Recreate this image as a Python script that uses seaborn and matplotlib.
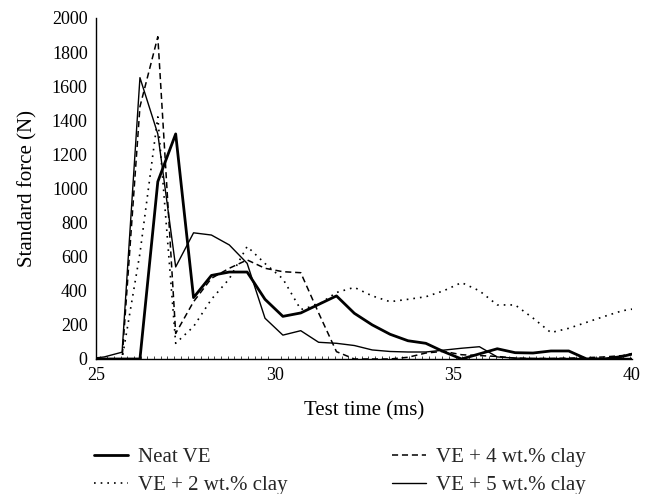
import numpy as np
import pandas as pd
import matplotlib
matplotlib.use("Agg")
import matplotlib.pyplot as plt
from matplotlib.ticker import MultipleLocator
import seaborn as sns

sns.set_theme(style="white")
plt.rcParams['font.family'] = ['Liberation Serif', 'DejaVu Serif']

# Test time (ms) of each sample
time_ms = [24.73, 25.23, 25.73, 26.23, 26.73, 27.23, 27.73, 28.23, 28.73, 29.23,
           29.73, 30.23, 30.73, 31.23, 31.73, 32.23, 32.73, 33.23, 33.73, 34.23,
           34.73, 35.23, 35.73, 36.23, 36.73, 37.23, 37.73, 38.23, 38.73, 39.23,
           39.73, 40.23]

# Standard force (N)
neat_ve = [0, 0, 0, 0, 1040, 1320, 360, 490, 510, 510,
           350, 250, 270, 320, 370, 268, 200, 145, 107, 92,
           43, 0, 30, 60, 37, 35, 47, 47, 0, 0,
           15, 40]
clay_2 = [0, 0, 0, 620, 1420, 92, 190, 350, 470, 660,
          560, 470, 290, 320, 390, 420, 370, 336, 350, 365,
          400, 448, 400, 317, 317, 240, 155, 180, 215, 250,
          283, 300]
clay_4 = [0, 0, 0, 1480, 1890, 150, 336, 473, 532, 581,
          532, 512, 506, 270, 43, 0, 0, 0, 10, 35,
          45, 25, 20, 15, 5, 3, 3, 5, 8, 12,
          20, 40]
clay_5 = [0, 12, 40, 1650, 1320, 540, 740, 727, 669, 561,
          239, 140, 166, 98, 92, 79, 53, 44, 41, 41,
          52, 63, 72, 12, 5, 3, 3, 3, 3, 3,
          3, 3]

series = [
    ("Neat VE", neat_ve, 2.0, "-"),
    ("VE + 2 wt.% clay", clay_2, 1.2, (0, (1, 3))),
    ("VE + 4 wt.% clay", clay_4, 1.1, (0, (4, 2.5))),
    ("VE + 5 wt.% clay", clay_5, 1.0, "-"),
]

fig = plt.figure(figsize=(6.46, 4.94), dpi=100)
ax = fig.add_axes([0.1486, 0.2733, 0.8297, 0.6903])

for name, vals, lw, ls in series:
    sns.lineplot(x=time_ms, y=vals, ax=ax, color="black", linewidth=lw,
                 linestyle=ls, label=name, legend=False)

ax.set_xlim(25, 40)
ax.set_ylim(0, 2000)
ax.set_xticks([25, 30, 35, 40])
ax.set_yticks(range(0, 2001, 200))
ax.xaxis.set_minor_locator(MultipleLocator(0.1875))
ax.tick_params(axis="both", which="major", length=0, labelsize=13, colors="black")
ax.tick_params(axis="y", which="major", pad=6)
ax.tick_params(axis="x", which="major", pad=6)
ax.tick_params(axis="x", which="minor", direction="in", length=2, width=0.6, bottom=True)

for side in ["top", "right"]:
    ax.spines[side].set_visible(False)
for side in ["left", "bottom"]:
    ax.spines[side].set_color("black")
    ax.spines[side].set_linewidth(1.0)

ax.set_xlabel("Test time (ms)", fontsize=15, color="black", labelpad=12)
ax.set_ylabel("Standard force (N)", fontsize=15, color="black", labelpad=10)

handles, labels = ax.get_legend_handles_labels()
fig.legend(handles, labels, ncol=2, frameon=False, fontsize=15,
           loc="center", bbox_to_anchor=(0.526, 0.046),
           handlelength=1.63, handletextpad=0.48, columnspacing=5.0,
           labelspacing=0.4)

fig.savefig("out.png", dpi=100)
